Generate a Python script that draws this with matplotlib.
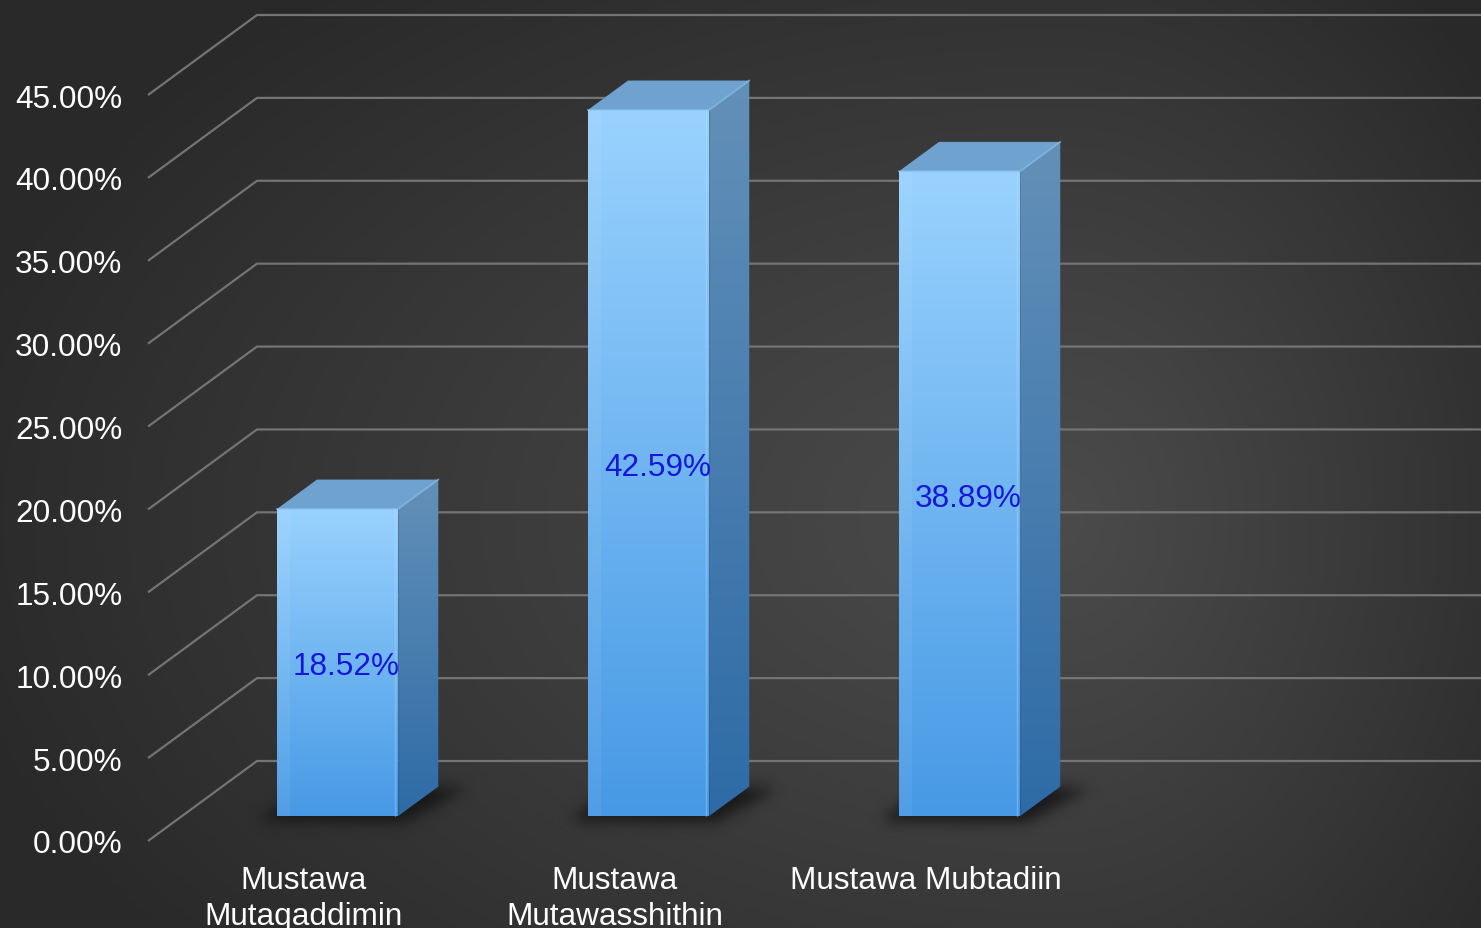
import numpy as np
import matplotlib
matplotlib.use("Agg")
import matplotlib.pyplot as plt
from matplotlib.transforms import Affine2D, IdentityTransform
from matplotlib.patches import Polygon
from matplotlib.path import Path

# ---------------- data ----------------
categories = ["Mustawa\nMutaqaddimin", "Mustawa\nMutawasshithin", "Mustawa Mubtadiin"]
values = [18.52, 42.59, 38.89]
value_labels = ["18.52%", "42.59%", "38.89%"]
yticks = [0, 5, 10, 15, 20, 25, 30, 35, 40, 45]
ytick_labels = ["0.00%", "5.00%", "10.00%", "15.00%", "20.00%",
                "25.00%", "30.00%", "35.00%", "40.00%", "45.00%"]

# ---------------- style / layout ----------------
W, H, DPI = 1481, 929, 100
FONT = "Liberation Sans"
FS = 22.7
DX, DY = 109.0, 80.0          # depth vector of the 3D floor (pixels)
F0, F1 = 0.3125, 0.68         # bar front/back depth fractions
BW = 0.39                     # bar width in category units

plt.rcParams["font.family"] = [FONT, "DejaVu Sans"]

fig = plt.figure(figsize=(W / DPI, H / DPI), dpi=DPI)

# ---------- background radial gradient ----------
bg = fig.add_axes([0, 0, 1, 1])
bg.axis("off")
yy, xx = np.mgrid[0:H, 0:W].astype(float)
cx, cy = 1060.0, 520.0
rx = np.where(xx < cx, 1150.0, 560.0)
ry = 700.0
d = np.sqrt(((xx - cx) / rx) ** 2 + ((yy - cy) / ry) ** 2)
t = np.clip(d, 0, 1) ** 1.1
lum = (0x4b + (0x29 - 0x4b) * t) / 255.0
bg.imshow(np.dstack([lum, lum, lum]), extent=[0, 1, 0, 1], aspect="auto",
          origin="upper", interpolation="bilinear")
bg.set_xlim(0, 1)
bg.set_ylim(0, 1)

# ---------- main axes = front plane ----------
x_lo, x_hi = -0.5, 3.5
left_px, bottom_px = 148, 87
cat_px = 311.0
ax = fig.add_axes([left_px / W, bottom_px / H, (x_hi - x_lo) * cat_px / W, 746 / H])
ax.set_facecolor("none")
ax.set_xlim(x_lo, x_hi)
ax.set_ylim(0, 45)
ax.set_autoscale_on(False)
for s in ax.spines.values():
    s.set_visible(False)

ax.set_yticks(yticks, ytick_labels)
ax.set_xticks(range(len(categories)), categories)
ax.tick_params(axis="y", length=0, pad=18.5, labelsize=FS, labelcolor="white")
ax.tick_params(axis="x", length=0, pad=17.0, labelsize=FS, labelcolor="white")
for lab in ax.get_xticklabels():
    lab.set_linespacing(1.26)

tD = ax.transData
ID = IdentityTransform()


def disp(x, y, f=0.0):
    p = tD.transform((x, y))
    return np.array([p[0] + f * DX, p[1] + f * DY])


# ---------- gridlines ----------
gcol, glw = "#747474", 1.6
for v in yticks:
    p_front = disp(x_lo, v, 0.0)
    p_back = disp(x_lo, v, 1.0)
    p_right = disp(x_hi, v, 1.0)
    ax.plot([p_front[0], p_back[0], p_right[0]], [p_front[1], p_back[1], p_right[1]],
            color=gcol, lw=glw, transform=ID, clip_on=False, zorder=1,
            solid_capstyle="butt", solid_joinstyle="round")


def grad_fill(pts, ctop, cbot, z):
    pts = np.asarray(pts)
    n = 256
    tt = np.linspace(0, 1, n)[:, None]
    ctop = np.array(matplotlib.colors.to_rgb(ctop))
    cbot = np.array(matplotlib.colors.to_rgb(cbot))
    cols = ctop * (1 - tt) + cbot * tt
    img = np.repeat(cols[:, None, :], 2, axis=1)
    im = ax.imshow(img, extent=[pts[:, 0].min(), pts[:, 0].max(),
                                pts[:, 1].min(), pts[:, 1].max()],
                   origin="upper", transform=ID, aspect="auto", zorder=z,
                   interpolation="bilinear")
    clip = Polygon(pts, closed=True, transform=ID, facecolor="none", edgecolor="none")
    im.set_clip_path(clip)
    im.set_clip_box(fig.bbox)
    im.set_clip_on(True)
    return im


def shadow(poly, z):
    poly = np.asarray(poly)
    pad = 45
    x0, x1 = int(poly[:, 0].min()) - pad, int(poly[:, 0].max()) + pad
    y0, y1 = int(poly[:, 1].min()) - pad, int(poly[:, 1].max()) + pad
    gy, gx = np.mgrid[y0:y1, x0:x1]
    pts = np.column_stack([gx.ravel() + 0.5, gy.ravel() + 0.5])
    mask = Path(poly).contains_points(pts).reshape(gx.shape).astype(float)
    sig = 7.0
    k = np.exp(-0.5 * (np.arange(-22, 23) / sig) ** 2)
    k /= k.sum()
    mask = np.apply_along_axis(lambda r: np.convolve(r, k, mode="same"), 1, mask)
    mask = np.apply_along_axis(lambda c: np.convolve(c, k, mode="same"), 0, mask)
    rgba = np.zeros(mask.shape + (4,))
    rgba[..., 0:3] = 0.08
    rgba[..., 3] = np.clip(mask * 0.9, 0, 1)
    ax.imshow(rgba, extent=[x0, x1, y0, y1], origin="lower", transform=ID,
              aspect="auto", zorder=z, interpolation="bilinear", clip_on=False)


# ---------- bars ----------
for i, v in enumerate(values):
    xl, xr = i - BW / 2, i + BW / 2
    FL0, FR0 = disp(xl, 0, F0), disp(xr, 0, F0)
    FLt, FRt = disp(xl, v, F0), disp(xr, v, F0)
    BL0, BR0 = disp(xl, 0, F1), disp(xr, 0, F1)
    BLt, BRt = disp(xl, v, F1), disp(xr, v, F1)

    # soft floor shadow
    foot = np.array([FL0 + [-18, -5], FR0 + [6, -6], BR0 + [28, -2], BL0 + [-8, 4]])
    shadow(foot, 2)

    # front face
    grad_fill([FL0, FR0, FRt, FLt], "#99d2fe", "#4799e5", 3)
    sw = (FR0[0] - FL0[0]) * 0.11
    ax.add_patch(Polygon([FL0, FL0 + [sw, 0], FLt + [sw, 0], FLt], closed=True,
                         transform=ID, facecolor="white", alpha=0.06,
                         edgecolor="none", zorder=3.1, clip_on=False))
    ax.plot([FR0[0] - 3, FRt[0] - 3], [FR0[1], FRt[1]], color="#b8e0ff", lw=1.0,
            alpha=0.35, transform=ID, zorder=3.2, clip_on=False)

    # side face
    grad_fill([FR0, BR0, BRt, FRt], "#6390b8", "#2e6ba6", 3)
    # top face
    ax.add_patch(Polygon([FLt, FRt, BRt, BLt], closed=True, transform=ID,
                         facecolor="#6fa2cf", edgecolor="none", zorder=3,
                         clip_on=False))
    ax.plot([FLt[0], FRt[0], BRt[0]], [FLt[1], FRt[1], BRt[1]], color="#8cc4f0",
            lw=1.2, alpha=0.7, transform=ID, zorder=3.3, clip_on=False)

    # data label
    ax.text(i, v / 2, value_labels[i], color="#1717d8", fontsize=FS,
            ha="center", va="center", zorder=6, clip_on=False,
            transform=tD + Affine2D().translate(F0 * DX + 9, F0 * DY - 4))

ax.set_xlim(x_lo, x_hi)
ax.set_ylim(0, 45)

fig.savefig("out.png", dpi=DPI)
